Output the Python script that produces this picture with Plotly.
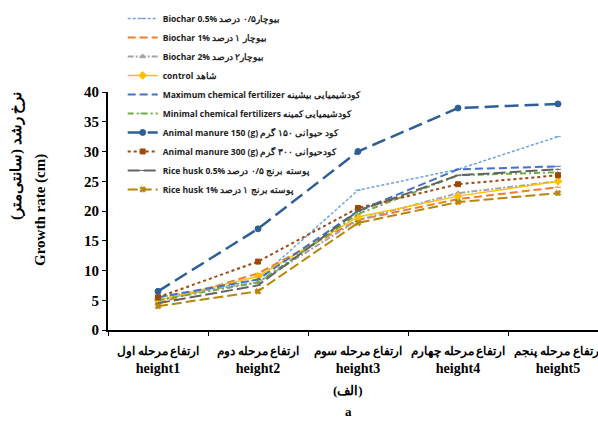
import plotly.graph_objects as go

categories_fa = ["ارتفاع مرحله اول", "ارتفاع مرحله دوم", "ارتفاع مرحله سوم",
                 "ارتفاع مرحله چهارم", "ارتفاع مرحله پنجم"]
categories_en = ["height1", "height2", "height3", "height4", "height5"]
categories = [f'<span style="font-size:11.5px">{fa}</span><br>{en}'
              for fa, en in zip(categories_fa, categories_en)]

names = [
    "Biochar 0.5% بیوچار۰/۵ درصد",
    "Biochar 1% بیوچار ۱ درصد",
    "Biochar 2% بیوچار۲ درصد",
    "control شاهد",
    "Maximum chemical fertilizer کودشیمیایی بیشینه",
    "Minimal chemical fertilizers کودشیمیایی کمینه",
    "Animal manure 150 (g) کود حیوانی ۱۵۰ گرم",
    "Animal manure 300 (g) کودحیوانی ۳۰۰ گرم",
    "Rice husk 0.5% پوسته برنج ۰/۵ درصد",
    "Rice husk 1% پوسته برنج ۱ درصد",
]

y_title_fa = "نرخ رشد (سانتی‌متر)"
y_title_en = "Growth rate (cm)"

biochar_05 = [5.0, 8.5, 23.5, 27.0, 32.5]
biochar_1 = [4.5, 9.5, 18.5, 22.0, 24.0]
biochar_2 = [5.5, 8.0, 18.5, 23.0, 25.0]
control = [5.0, 9.0, 19.0, 22.5, 25.0]
max_chem = [5.5, 8.5, 20.0, 27.0, 27.5]
min_chem = [5.0, 8.0, 19.5, 26.0, 26.5]
manure_150 = [6.5, 17.0, 30.0, 37.3, 38.0]
manure_300 = [5.5, 11.5, 20.5, 24.5, 26.0]
husk_05 = [4.5, 7.5, 20.0, 26.0, 27.0]
husk_1 = [4.0, 6.5, 18.0, 21.5, 23.0]

series = [biochar_05, biochar_1, biochar_2, control, max_chem, min_chem,
          manure_150, manure_300, husk_05, husk_1]

styles = [
    dict(color="#6FA3DC", dash="3px,2px", width=1.5, symbol="line-ew", msize=4),
    dict(color="#ED7D31", dash="8px,4px", width=2, symbol="line-ew", msize=4),
    dict(color="#A5A5A5", dash="6px,2px,2px,2px", width=2, symbol="triangle-up", msize=5),
    dict(color="#FFC000", dash="solid", width=1.5, symbol="diamond", msize=6),
    dict(color="#4472C4", dash="8px,4px", width=2, symbol="line-ew", msize=4),
    dict(color="#70AD47", dash="6px,3px,2px,3px", width=2, symbol="line-ew", msize=4),
    dict(color="#2E6096", dash="14px,6px", width=2.5, symbol="circle", msize=6),
    dict(color="#9E480E", dash="dot", width=2, symbol="square", msize=5),
    dict(color="#636363", dash="12px,4px", width=2, symbol="line-ew", msize=4),
    dict(color="#B8860B", dash="10px,4px", width=2, symbol="x", msize=5),
]

fig = go.Figure()
for name, vals, st in zip(names, series, styles):
    fig.add_trace(go.Scatter(
        x=categories, y=vals, name=name, mode="lines+markers",
        line=dict(color=st["color"], dash=st["dash"], width=st["width"]),
        marker=dict(symbol=st["symbol"], size=st["msize"], color=st["color"],
                    line=dict(color=st["color"], width=1)),
    ))

serif = "Liberation Serif"
fig.update_layout(
    width=598, height=428,
    margin=dict(l=108, r=0, t=92, b=98),
    paper_bgcolor="white", plot_bgcolor="white",
    showlegend=True,
    legend=dict(x=0.03, y=1.37, xanchor="left", yanchor="top",
                bgcolor="rgba(0,0,0,0)", tracegroupgap=0,
                font=dict(family="Open Sans", size=8.5, color="#222", weight="bold"),
                itemwidth=30),
    xaxis=dict(type="category", range=[-0.5, 4.4], tickson="boundaries",
               tickangle=0, automargin=False, ticklabelstandoff=6,
               showline=True, linecolor="black", linewidth=2,
               ticks="outside", ticklen=4, tickcolor="black",
               tickfont=dict(family=serif, size=14, color="black", weight="bold"),
               showgrid=False),
    yaxis=dict(range=[0, 40], dtick=5, showline=True, linecolor="black", linewidth=2,
               ticks="outside", ticklen=4, tickcolor="black", showgrid=False,
               zeroline=False, automargin=False,
               tickfont=dict(family=serif, size=15, color="black", weight="bold")),
)
# y-axis title: two lines placed as rotated text
fig.add_annotation(text=y_title_fa, textangle=-90, xref="paper", x=(16 - 108) / 490,
                   yref="paper", y=(330 - 156) / 238, xanchor="center", yanchor="middle",
                   showarrow=False,
                   font=dict(family=serif, size=15, color="black", weight="bold"))
fig.add_annotation(text=y_title_en, textangle=-90, xref="paper", x=(40 - 108) / 490,
                   yref="paper", y=(330 - 210) / 238, xanchor="center", yanchor="middle",
                   showarrow=False,
                   font=dict(family=serif, size=15, color="black", weight="bold"))
cx = (348 - 108) / 490
fig.add_annotation(text="(الف)", xref="paper", x=cx, yref="paper", y=(330 - 390) / 238,
                   yanchor="middle", showarrow=False,
                   font=dict(family=serif, size=13, color="black", weight="bold"))
fig.add_annotation(text="a", xref="paper", x=cx, yref="paper", y=(330 - 411) / 238,
                   yanchor="middle", showarrow=False,
                   font=dict(family=serif, size=13, color="black", weight="bold"))

fig.write_html("out.html")
